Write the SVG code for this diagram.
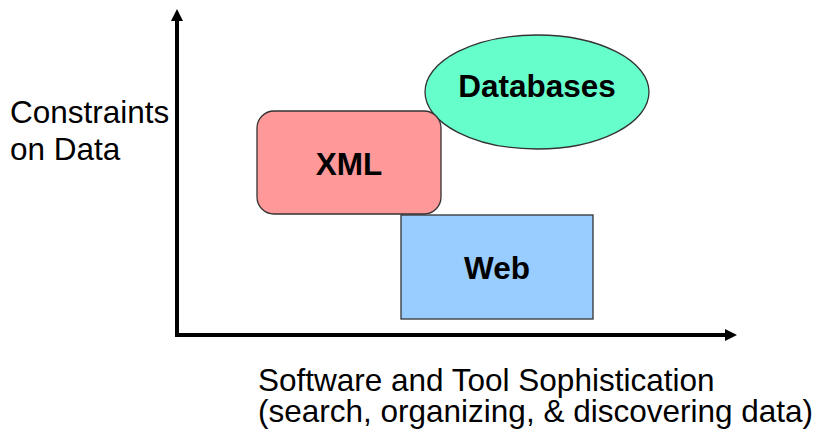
<svg xmlns="http://www.w3.org/2000/svg" width="826" height="432" viewBox="0 0 826 432">
<style>
.shape{stroke:#333;stroke-width:1.3}
.lbl{font-family:"Liberation Sans",Arial,sans-serif;font-weight:bold;font-size:31.5px;text-anchor:middle;fill:#000}
.txt{font-family:"Liberation Sans",Arial,sans-serif;font-size:31.5px;fill:#000}
.axis{stroke:#000;stroke-width:4;fill:none}
</style>
<defs>
<marker id="ah" markerWidth="3" markerHeight="3" refX="0.5" refY="1.5" orient="auto" markerUnits="strokeWidth">
<path d="M0,0 L3,1.5 L0,3 z" fill="#000"/>
</marker>
</defs>
<rect width="826" height="432" fill="#fff"/>
<g id="axes">
<path class="axis" d="M177,335 L177,19" marker-end="url(#ah)"/>
<path class="axis" d="M175,335 L727,335" marker-end="url(#ah)"/>
</g>
<g id="databases">
<ellipse class="shape" cx="537" cy="92" rx="112" ry="57" fill="#66FFCC"/>
<text class="lbl" x="537" y="97">Databases</text>
</g>
<g id="web">
<rect class="shape" x="401" y="215" width="192" height="104" fill="#99CCFF"/>
<text class="lbl" x="497" y="279">Web</text>
</g>
<g id="xml">
<rect class="shape" x="257" y="111" width="184" height="103" rx="17" fill="#FF9999"/>
<text class="lbl" x="349" y="175">XML</text>
</g>
<text class="txt" x="10" y="123">Constraints</text>
<text class="txt" x="10" y="160">on Data</text>
<text class="txt" x="258" y="391">Software and Tool Sophistication</text>
<text class="txt" x="258" y="422">(search, organizing, &amp; discovering data)</text>
</svg>
